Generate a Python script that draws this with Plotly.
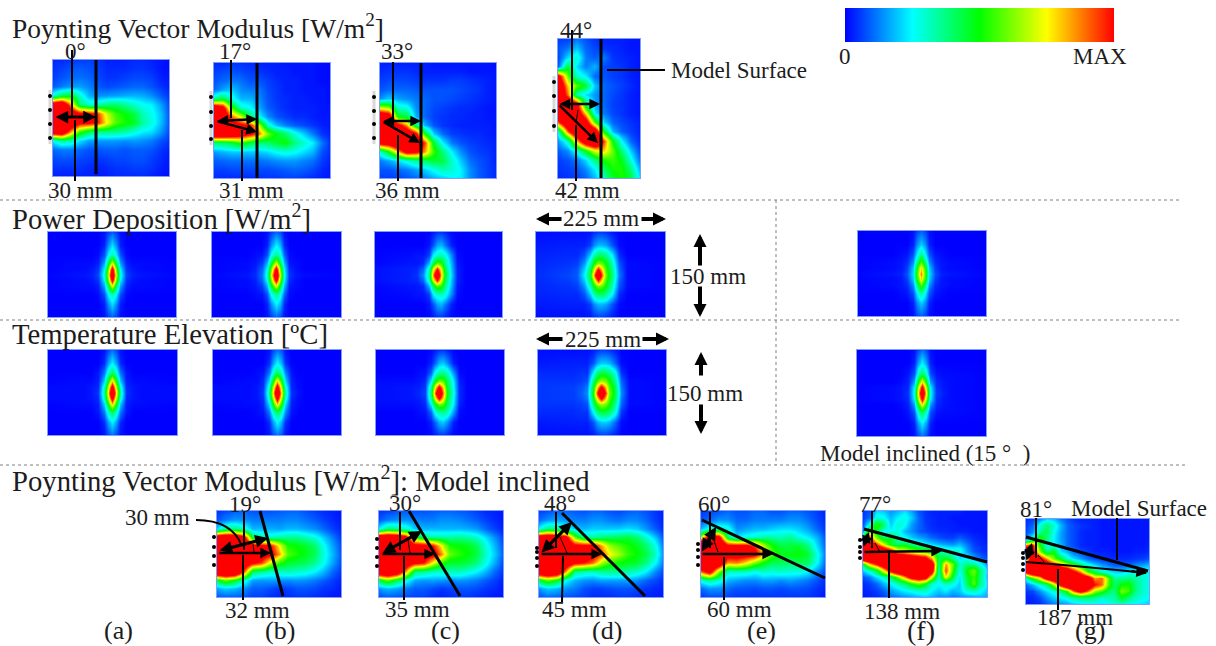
import plotly.graph_objects as go

W, H = 1216, 646

RAINBOW = [[0, "#0000ff"], [0.25, "#00ffff"], [0.5, "#00ff00"], [0.75, "#ffff00"], [1, "#ff0000"]]

# Field maps, 0 = blue, 100 = red (values above 100 saturate as red)
P_0 = [[4,4,5,6,6,5,3,3,3,4,4,3,2,1],[5,6,8,9,8,6,4,4,4,5,5,4,2,1],[6,8,10,11,10,7,5,5,6,7,7,6,3,2],
[9,12,15,16,13,9,7,8,9,10,10,8,5,3],[30,42,48,30,18,14,15,16,17,18,17,14,9,5],[120,130,85,40,30,32,38,40,36,30,26,24,16,7],
[140,140,120,105,103,95,70,55,50,44,32,27,19,8],[140,140,125,105,104,98,75,58,52,48,34,28,19,8],[120,125,85,55,42,36,38,36,34,28,24,22,15,7],
[25,35,32,22,16,15,15,15,14,15,14,12,8,5],[10,12,12,10,8,8,9,9,8,9,9,8,5,3],[7,8,8,7,6,5,6,7,7,8,8,6,4,2],
[5,5,5,5,4,3,4,5,5,6,6,5,3,2],[3,3,3,3,3,2,3,4,4,4,4,3,2,1]]
P_17 = [[4,4,5,5,4,3,3,3,2,2,2,2,1,1],[6,7,8,7,6,5,4,3,3,2,2,2,1,1],[8,10,12,11,8,8,6,4,3,3,2,2,1,1],
[10,16,20,14,12,12,7,5,3,3,2,2,2,1],[35,45,28,18,18,14,8,5,4,3,3,2,2,1],[125,110,55,30,26,17,9,6,4,3,3,3,2,2],
[140,125,90,72,42,26,14,8,6,4,4,3,2,2],[140,135,115,105,100,70,30,18,12,9,7,5,3,2],[130,130,125,115,105,90,62,48,40,28,20,12,5,3],
[40,40,45,55,45,38,40,46,50,38,30,24,12,4],[15,18,20,20,20,20,22,26,28,26,22,18,8,4],[9,10,11,11,11,11,12,14,15,15,13,11,6,3],
[6,6,7,7,7,7,7,8,9,10,9,7,4,2],[4,4,4,4,4,4,5,5,6,6,5,4,3,2]]
P_33 = [[3,3,3,3,3,3,2,2,2,2,2,2,2,1],[4,5,5,5,4,3,3,3,3,3,2,2,2,2],[6,7,7,7,6,5,5,5,6,6,5,4,3,2],
[8,10,10,10,9,8,8,8,8,7,6,5,3,2],[14,20,16,14,12,10,8,8,7,6,5,4,3,2],[70,65,30,28,14,10,7,6,5,4,4,3,2,2],
[130,120,50,45,18,10,6,5,4,4,3,3,2,2],[130,135,110,85,40,18,8,5,4,3,3,3,3,2],[135,135,130,120,105,50,20,10,6,5,4,4,3,2],
[110,115,130,135,125,95,45,24,12,8,6,5,4,3],[30,50,80,110,105,85,55,38,24,14,8,6,5,3],[12,16,22,28,35,40,45,44,30,20,11,8,6,3],
[8,8,10,12,16,20,26,32,30,24,14,9,6,4],[6,6,6,8,10,13,17,20,24,24,14,9,6,4]]
P_44 = [[6,6,12,8,5,3,3,3,2,2],[8,12,20,10,7,5,4,3,2,2],[7,22,30,12,9,12,5,4,3,2],[9,45,22,12,18,7,6,5,3,2],
[110,60,30,24,10,8,6,5,3,2],[125,80,60,45,20,10,8,6,4,2],[125,90,30,22,15,10,7,5,3,2],[130,130,110,40,16,10,6,5,3,2],
[135,130,120,80,25,12,7,5,3,2],[90,130,130,115,60,22,10,7,5,3],[30,90,130,135,125,50,18,9,6,3],[15,30,80,120,135,95,50,25,10,4],
[9,14,28,50,72,80,60,38,20,6],[6,8,12,22,38,52,56,48,28,10],[5,6,8,14,24,40,52,52,38,16],[4,5,6,10,18,32,46,52,44,22]]

I_19 = [[5,7,9,10,8,8,8,9,10,10,8,6,4,3,2],[8,12,15,14,12,12,12,12,13,13,11,9,6,4,2],[22,35,38,30,18,18,17,16,18,18,16,14,10,6,3],
[120,130,125,110,42,34,30,34,36,36,32,28,20,12,5],[135,140,140,125,105,105,100,75,52,50,46,40,26,16,7],[135,140,140,125,110,110,105,85,58,52,48,42,28,18,8],
[135,140,140,120,105,95,70,55,46,44,42,36,26,16,7],[130,135,130,95,40,35,30,30,32,30,28,24,18,10,5],[45,60,50,30,16,15,16,15,14,15,14,12,9,6,3],
[16,20,18,14,9,9,7,5,6,8,8,7,5,4,2],[8,9,9,8,6,6,4,3,4,5,5,4,3,2,2]]
I_30 = [[5,6,8,9,8,8,9,10,10,9,8,6,4,3,2],[8,12,14,14,13,12,12,14,14,13,11,9,6,4,2],[24,38,36,30,20,18,18,18,18,18,17,15,10,6,3],
[125,130,125,110,55,38,34,34,34,36,34,30,22,14,6],[135,140,140,125,108,108,100,75,52,50,48,42,28,18,8],[135,140,140,125,110,112,108,88,60,54,50,44,30,20,9],
[135,140,135,118,105,100,75,55,46,46,44,38,27,17,7],[125,130,120,85,38,35,30,30,32,32,28,24,18,10,5],[45,60,45,28,17,15,16,15,14,15,14,12,9,6,3],
[14,18,16,12,9,9,7,5,6,8,8,7,5,4,2],[7,9,8,7,6,6,4,3,4,5,5,4,3,2,2]]
I_48 = [[6,8,10,10,9,8,10,10,8,7,9,10,8,5,3],[10,14,16,14,12,12,14,14,12,11,13,13,10,6,3],[25,38,36,28,20,18,20,20,20,20,22,20,15,9,4],
[120,125,120,110,60,36,34,38,40,42,44,40,30,20,8],[135,140,140,125,105,105,105,85,65,58,52,48,40,28,12],[135,140,140,125,115,110,108,95,75,66,55,50,44,32,14],
[135,140,135,120,105,100,90,68,55,50,48,46,38,26,12],[125,130,125,85,36,32,30,35,36,36,34,30,24,14,7],[45,60,50,26,18,15,14,16,16,16,16,14,10,7,4],
[14,20,18,14,12,8,6,6,7,8,8,7,5,4,3],[8,10,9,8,7,6,4,4,4,5,5,4,3,3,2]]
I_60 = [[5,7,8,10,8,8,10,10,8,8,10,10,8,6,3],[8,10,14,14,10,10,12,12,12,12,14,14,11,7,4],[18,28,32,28,14,16,18,18,20,22,22,20,16,10,5],
[70,115,110,42,22,28,30,34,34,32,36,28,24,18,8],[130,135,130,105,105,105,95,68,52,44,44,46,38,22,10],[135,140,130,110,110,110,108,82,58,48,48,50,46,28,12],
[130,135,125,85,88,78,62,50,42,42,40,42,40,26,10],[90,110,62,30,30,30,26,30,28,30,28,28,24,14,7],[28,36,30,18,16,14,14,16,16,14,16,14,12,8,4],
[10,14,14,10,8,8,7,8,8,7,8,8,7,5,3],[5,7,7,6,5,5,5,5,5,5,5,5,5,4,2]]
I_77 = [[5,8,22,20,15,18,22,16,8,5,3,3,3,3,3,2,2,2,2],[6,10,28,26,18,24,28,20,10,5,4,3,3,2,2,2,2,2,2],[8,28,55,40,20,30,26,15,10,6,4,3,3,3,2,2,2,2,2],
[15,60,45,25,26,28,18,14,9,7,5,4,4,3,3,3,2,2,2],[50,95,60,40,50,30,26,20,16,14,10,8,6,6,9,6,4,3,2],[125,120,95,70,45,40,45,38,32,25,22,18,16,14,18,12,6,4,3],
[135,135,130,120,105,75,70,60,55,52,48,35,30,30,28,16,8,5,4],[130,135,135,130,130,130,125,120,110,105,80,42,45,35,22,24,16,10,6],[45,80,100,125,130,130,130,130,130,125,120,35,85,60,30,38,36,26,14],
[20,30,45,75,105,125,130,130,130,130,115,30,95,55,25,50,62,38,22],[8,12,22,30,40,60,85,110,120,115,70,28,75,45,22,45,55,38,18],[4,6,10,18,24,32,38,52,60,50,30,25,30,28,20,40,60,34,24],
[3,4,6,9,16,20,24,26,30,30,24,20,24,18,20,30,32,26,20],[2,3,4,6,10,12,14,16,18,20,18,14,14,12,14,14,16,18,16]]
I_81 = [[4,6,14,22,20,12,8,5,3,3,3,2,2,2,2,2,2,2,2],[6,10,28,40,30,18,10,7,5,4,3,2,2,2,2,2,2,2,2],[7,14,35,42,26,16,10,7,4,3,3,2,2,2,2,2,2,2,2],
[12,30,55,38,24,16,10,7,4,3,3,2,2,2,2,2,2,2,2],[90,100,50,28,26,18,10,7,4,3,3,2,2,2,2,2,2,2,3],[120,110,65,36,50,22,18,10,7,5,3,3,3,2,2,2,3,3,4],
[60,130,110,85,60,45,30,22,16,10,7,5,4,4,4,4,5,6,8],[130,135,135,125,110,90,75,58,42,30,22,16,12,9,9,10,14,16,20],[110,130,135,135,130,130,125,105,85,55,42,28,24,20,20,24,26,28,26],
[30,55,75,110,130,135,135,135,130,120,85,90,60,35,36,38,34,30,26],[10,18,28,36,65,105,130,135,130,125,100,90,58,40,50,52,38,30,26],[5,7,14,22,28,38,55,90,110,90,65,55,42,38,62,55,36,30,28],
[3,4,7,14,20,24,28,34,38,38,36,30,32,34,48,38,30,28,24],[2,3,4,8,12,14,16,20,22,24,24,22,26,28,30,26,24,22,20]]

# Focused maps: offsets from the focus in mm
FOCUS_X = [-130,-50,-36,-24,-14,-7,0,7,14,24,36,50,130]
FOCUS_Y = [-80,-52,-34,-20,-10,0,10,20,34,52,80]

D_0 = [[0,0,0,0,1,4,6,4,1,0,0,0,0],[0,0,0,0,3,14,22,14,3,0,0,0,0],[0,0,0,1,8,24,34,24,8,1,0,0,0],[0,1,1,3,16,42,72,42,16,3,1,1,0],[0,1,2,5,24,60,108,60,24,5,2,1,0],
[0,2,3,7,28,68,125,68,28,7,3,2,0],[0,1,2,5,24,60,108,60,24,5,2,1,0],[0,1,1,3,16,42,72,42,16,3,1,1,0],[0,0,0,1,8,24,34,24,8,1,0,0,0],[0,0,0,0,3,14,22,14,3,0,0,0,0],[0,0,0,0,1,4,6,4,1,0,0,0,0]]
D_17 = [[0,0,0,0,1,4,7,5,1,0,0,0,0],[0,0,0,0,3,14,24,18,4,0,0,0,0],[0,0,1,2,8,26,36,28,10,1,0,0,0],[0,1,2,6,18,44,72,44,18,2,1,0,0],[0,1,3,10,26,62,108,62,24,4,1,0,0],
[0,2,4,12,30,72,125,70,26,5,2,1,0],[0,1,3,10,26,62,108,62,24,4,1,0,0],[0,1,2,6,18,44,72,44,18,2,1,0,0],[0,0,1,2,8,26,36,28,10,1,0,0,0],[0,0,0,0,3,14,24,18,4,0,0,0,0],[0,0,0,0,1,4,7,5,1,0,0,0,0]]
D_33 = [[0,0,0,0,0,1,2,2,1,0,0,0,0],[0,0,0,0,2,8,16,18,12,3,0,0,0],[0,1,2,2,6,24,30,32,28,14,1,0,0],[0,2,2,4,18,42,58,52,36,18,2,0,0],[1,3,4,10,32,72,100,72,42,20,3,0,0],
[1,3,5,14,36,88,130,80,46,22,3,0,0],[1,3,4,10,32,72,100,72,42,20,3,0,0],[0,2,2,4,18,42,58,52,36,18,2,0,0],[0,1,2,2,6,24,30,32,28,14,1,0,0],[0,0,0,0,2,8,16,18,12,3,0,0,0],[0,0,0,0,0,1,2,2,1,0,0,0,0]]
D_44 = [[1,1,1,1,1,2,3,3,2,1,0,0,0],[2,3,3,3,6,14,18,18,16,8,1,0,0],[3,4,4,8,20,34,40,40,36,24,4,0,0],[3,5,6,14,32,50,62,58,48,32,8,1,0],[3,6,8,20,40,70,100,76,54,36,10,1,0],
[3,7,9,24,44,88,135,90,58,38,12,1,0],[3,6,8,20,40,70,100,76,54,36,10,1,0],[3,5,6,14,32,50,62,58,48,32,8,1,0],[3,4,4,8,20,34,40,40,36,24,4,0,0],[2,3,3,3,6,14,18,18,16,8,1,0,0],[1,1,1,1,1,2,3,3,2,1,0,0,0]]
D_IN = [[0,0,0,0,1,5,7,5,1,0,0,0,0],[0,0,0,0,3,14,20,14,3,0,0,0,0],[0,0,1,2,8,24,36,24,8,2,1,0,0],[0,1,2,4,14,38,58,38,14,4,2,1,0],[0,1,2,6,20,52,78,52,20,6,2,1,0],
[0,2,3,8,22,56,88,56,22,8,3,2,0],[0,1,2,6,20,52,78,52,20,6,2,1,0],[0,1,2,4,14,38,58,38,14,4,2,1,0],[0,0,1,2,8,24,36,24,8,2,1,0,0],[0,0,0,0,3,14,20,14,3,0,0,0,0],[0,0,0,0,1,5,7,5,1,0,0,0,0]]

T_0 = [[0,0,0,0,1,5,8,5,1,0,0,0,0],[0,0,0,0,4,16,24,16,4,0,0,0,0],[0,0,0,2,12,30,42,30,12,2,0,0,0],[0,1,1,3,20,50,80,50,20,3,1,1,0],[1,1,2,4,30,68,110,68,30,4,2,1,1],
[1,1,2,5,34,78,130,78,34,5,2,1,1],[1,1,2,4,30,68,110,68,30,4,2,1,1],[0,1,1,3,20,50,80,50,20,3,1,1,0],[0,0,0,2,12,30,42,30,12,2,0,0,0],[0,0,0,0,4,16,24,16,4,0,0,0,0],[0,0,0,0,1,5,8,5,1,0,0,0,0]]
T_17 = [[0,0,0,0,1,5,8,6,1,0,0,0,0],[0,0,0,0,4,16,25,18,5,0,0,0,0],[0,0,1,2,12,30,42,32,14,2,0,0,0],[0,1,1,4,22,50,80,52,22,3,1,0,0],[1,1,2,5,30,68,110,70,30,4,1,0,0],
[1,1,2,6,34,80,130,80,34,5,2,0,0],[1,1,2,5,30,68,110,70,30,4,1,0,0],[0,1,1,4,22,50,80,52,22,3,1,0,0],[0,0,1,2,12,30,42,32,14,2,0,0,0],[0,0,0,0,4,16,25,18,5,0,0,0,0],[0,0,0,0,1,5,8,6,1,0,0,0,0]]
T_33 = [[0,0,0,0,0,1,2,2,1,0,0,0,0],[0,0,0,0,3,10,18,20,14,3,0,0,0],[0,0,1,2,10,28,34,36,32,16,1,0,0],[1,1,2,4,24,48,62,58,42,24,3,0,0],[1,2,3,6,36,76,105,78,46,26,4,0,0],
[1,2,4,7,40,92,130,88,50,28,4,0,0],[1,2,3,6,36,76,105,78,46,26,4,0,0],[1,1,2,4,24,48,62,58,42,24,3,0,0],[0,0,1,2,10,28,34,36,32,16,1,0,0],[0,0,0,0,3,10,18,20,14,3,0,0,0],[0,0,0,0,0,1,2,2,1,0,0,0,0]]
T_44 = [[1,1,1,1,1,2,3,3,2,1,0,0,0],[2,3,3,3,8,16,20,20,18,10,1,0,0],[4,4,5,5,24,38,44,44,40,28,5,0,0],[5,5,6,8,38,56,66,62,52,36,10,1,0],[5,6,8,12,46,78,105,84,58,42,12,1,0],
[5,6,9,14,50,96,135,100,62,44,14,1,0],[5,6,8,12,46,78,105,84,58,42,12,1,0],[5,5,6,8,38,56,66,62,52,36,10,1,0],[4,4,5,5,24,38,44,44,40,28,5,0,0],[2,3,3,3,8,16,20,20,18,10,1,0,0],[1,1,1,1,1,2,3,3,2,1,0,0,0]]
T_IN = [[0,0,0,0,1,5,8,5,1,0,0,0,0],[0,0,0,0,3,16,24,16,3,0,0,0,0],[0,0,0,2,8,30,42,30,8,2,1,1,0],[0,0,1,3,16,50,78,50,16,4,2,1,0],[0,1,2,4,24,66,105,66,24,5,2,1,0],
[0,1,2,5,26,76,125,76,26,6,3,1,0],[0,1,2,4,24,66,105,66,24,5,2,1,0],[0,0,1,3,16,50,78,50,16,4,2,1,0],[0,0,0,2,8,30,42,30,8,2,1,1,0],[0,0,0,0,3,16,24,16,3,0,0,0,0],[0,0,0,0,1,5,8,5,1,0,0,0,0]]

FIELD_PANELS = [(P_0,53,60,169,176),(P_17,214,63,330,178),(P_33,380,63,496,178),(P_44,558,39,640,178),
    (I_19,217,511,341,597),(I_30,379,511,503,597),(I_48,539,511,663,597),(I_60,701,511,825,597),(I_77,863,511,987,597),(I_81,1026,519,1149,604)]
FOCUS_PANELS = [(D_0,48,232,176,317,64),(D_17,212,232,341,317,63.5),(D_33,375,232,502,317,62),(D_44,536,232,665,317,62),(D_IN,858,231,986,316,63),
    (T_0,48,350,177,435,64),(T_17,213,350,341,435,64),(T_33,376,350,504,435,63),(T_44,538,350,666,435,63),(T_IN,857,350,986,436,65)]

SERIF = "Liberation Serif"
TEXT = "#1c1c1c"
TEXTS = [
    ("Poynting Vector Modulus [W/m<sup>2</sup>]",10,26,27.5,"left"),("Power Deposition [W/m<sup>2</sup>]",10,217,28.6,"left"),
    ("Temperature Elevation [ºC]",10,334,28.7,"left"),("Poynting Vector Modulus [W/m<sup>2</sup>]: Model inclined",10,479,28.7,"left"),
    ("0°",75,51,23,"center"),("17°",235,51,23,"center"),("33°",397,51,23,"center"),("44°",576,30,23,"center"),
    ("30 mm",80,190,23,"center"),("31 mm",251,190,23,"center"),("36 mm",407,190,23,"center"),("42 mm",587,190,23,"center"),
    ("Model Surface",669,70,23,"left"),("225 mm",601,218,23,"center"),("225 mm",603,339,23,"center"),
    ("150 mm",708,276,23,"center"),("150 mm",705,393,23,"center"),("Model inclined (15 °  )",925,453,23,"center"),
    ("30 mm",157,517,23,"center"),("19°",245,504,23,"center"),("30°",405,503,23,"center"),("48°",560,503,23,"center"),
    ("60°",714,504,23,"center"),("77°",875,504,23,"center"),("81°",1036,509,23,"center"),("Model Surface",1069,508,23,"left"),
    ("32 mm",257,610,23,"center"),("35 mm",417,609,23,"center"),("45 mm",574,609,23,"center"),("60 mm",739,609,23,"center"),
    ("138 mm",902,611,23,"center"),("187 mm",1075,617,23,"center"),
    ("0",845,56,23,"center"),("MAX",1100,56,23,"center"),
    ("(a)",118,630,26,"center"),("(b)",280,630,26,"center"),("(c)",445,630,26,"center"),("(d)",607,630,26,"center"),
    ("(e)",761,630,26,"center"),("(f)",921,630,28,"center"),("(g)",1090,630,26,"center"),
]
LINES = [
    (96,60,96,174,3),(72,50,72,116,2),(75,120,75,181,2),
    (257,63,257,178,3),(231,60,231,118,2),(242,130,242,181,2),
    (421,63,421,178,3),(393,62,393,122,2),(398,135,398,181,2),
    (601,39,601,178,3),(572,30,572,110,2),(576,125,576,181,2),(607,70,665,70,2),
    (260,511,283,596,3),(244,512,244,550,2),(243,555,243,600,2),
    (409,511,460,596,3),(400,512,400,550,2),(404,556,404,600,2),
    (562,513,645,596,3),(556,512,556,548,2),(563,556,562,602,2),
    (702,520,825,578,3),(710,512,710,548,2),(724,557,724,600,2),
    (864,529,987,562,3),(872,511,872,548,2),(889,553,889,598,2),
    (1026,537,1148,571,3),(1036,518,1036,558,2),(1058,569,1058,610,2),(1117,518,1117,560,2),
    (578,110,576,123,1),(253,544,254,552,1),(408,540,410,553,1),(560,537,567,553,1),(713,538,718,552,1),(875,543,880,552,1),(1038,555,1044,562,1),
]
ARROWS = [
    (54,117,96,117,3,True),(216,121,257,119,2.5,True),(216,121,257,132,2.5,False),
    (382,121,421,121,2.5,True),(382,121,420,143,2.5,False),(558,104,600,104,2.5,True),(558,104,598,143,2.5,False),
    (218,551,268,538,3,True),(218,553,271,553,2.5,False),(381,554,422,531,3,True),(381,554,435,554,2.5,False),
    (540,554,572,522,3,True),(540,554,602,554,2.5,False),(701,553,716,527,3,True),(701,554,773,554,2.5,False),
    (863,548,869,532,2.5,True),(863,552,942,551,2.5,False),(1026,562,1032,543,2.5,True),(1130,571,1147,573,2.5,False),
    (563,219,536,219,4,False),(640,219,666,219,4,False),(564,339,536,339,4,False),(641,339,669,339,4,False),
    (700,267,700,234,4,False),(700,285,700,317,4,False),(701,377,701,352,4,False),(701,403,701,434,4,False),
]
DOTS = [(50,96),(50,110),(50,124),(50,138),(211,97),(211,112),(211,126),(211,139),(374,97),(374,111),(374,124),(374,138),
    (554,82),(554,96),(554,111),(554,126),(214,537),(214,547),(214,556),(214,565),(377,539),(377,548),(377,557),(377,566),
    (537,548),(537,552),(537,558),(537,566),(698,544),(698,550),(698,557),(698,565),(860,540),(860,547),(860,552),(860,558),
    (1023,553),(1023,558),(1023,564),(1023,570)]
ARRAY_BARS = [(50,90,50,144),(211,91,211,145),(374,91,374,144),(554,76,554,132)]
SEPARATORS = [(0,200,1180,200),(0,320,1180,320),(0,465,1186,465),(776,200,776,465)]
CURVES = ["M196,520 Q232,520 242,546", "M1026,562 Q1090,567 1146,573"]

fig = go.Figure()
layout = {}
axis_common = dict(showgrid=False, zeroline=False, showticklabels=False, ticks="", showline=True,
                   linecolor="#7f9cff", linewidth=1, mirror=True)
n = 0

def add_axes(left, top, right, bottom, xr, yr):
    global n
    n += 1
    s = "" if n == 1 else str(n)
    layout["xaxis" + s] = dict(axis_common, domain=[left / W, right / W], range=xr, anchor="y" + s)
    layout["yaxis" + s] = dict(axis_common, domain=[1 - bottom / H, 1 - top / H], range=yr, anchor="x" + s)
    return "x" + s, "y" + s

for grid, l, t, r, b in FIELD_PANELS:
    xa, ya = add_axes(l, t, r, b, [0, len(grid[0]) - 1], [len(grid) - 1, 0])
    fig.add_trace(go.Heatmap(z=grid, coloraxis="coloraxis", zsmooth="best", xaxis=xa, yaxis=ya, hoverinfo="skip"))
for grid, l, t, r, b, c in FOCUS_PANELS:
    mm = 225 / (r - l)
    xa, ya = add_axes(l, t, r, b, [-c * mm, (r - l - c) * mm], [75, -75])
    fig.add_trace(go.Heatmap(x=FOCUS_X, y=FOCUS_Y, z=grid, coloraxis="coloraxis", zsmooth="best", xaxis=xa, yaxis=ya, hoverinfo="skip"))

layout["xaxis99"] = dict(domain=[0, 1], range=[0, W], visible=False, anchor="y99")
layout["yaxis99"] = dict(domain=[0, 1], range=[H, 0], visible=False, anchor="x99")
fig.add_trace(go.Scatter(x=[None], y=[None], xaxis="x99", yaxis="y99", showlegend=False))

shapes = []
for x0, y0, x1, y1 in SEPARATORS:
    shapes.append(dict(type="line", xref="x99", yref="y99", x0=x0, y0=y0, x1=x1, y1=y1, line=dict(color="#808080", width=1, dash="dot")))
for x0, y0, x1, y1 in ARRAY_BARS:
    shapes.append(dict(type="line", xref="x99", yref="y99", x0=x0, y0=y0, x1=x1, y1=y1, line=dict(color="#d8d8d8", width=3)))
for x0, y0, x1, y1, w in LINES:
    shapes.append(dict(type="line", xref="x99", yref="y99", x0=x0, y0=y0, x1=x1, y1=y1, line=dict(color="black", width=w)))
for p in CURVES:
    shapes.append(dict(type="path", xref="x99", yref="y99", path=p, line=dict(color="black", width=2)))
for x, y in DOTS:
    shapes.append(dict(type="circle", xref="x99", yref="y99", x0=x - 2, x1=x + 2, y0=y - 2, y1=y + 2, fillcolor="black", line=dict(width=0)))

annotations = []
for text, x, y, size, anchor in TEXTS:
    annotations.append(dict(text=text, x=x, y=y, xref="x99", yref="y99", showarrow=False, xanchor=anchor, yanchor="middle",
                            font=dict(family=SERIF, size=size, color=TEXT)))
for x0, y0, x1, y1, w, both in ARROWS:
    scale = 0.65 if w >= 4 else 0.85
    annotations.append(dict(text="", x=x1, y=y1, ax=x0, ay=y0, xref="x99", yref="y99", axref="x99", ayref="y99", showarrow=True,
                            arrowhead=2, arrowsize=scale, arrowwidth=w, arrowcolor="black", standoff=0, startstandoff=0,
                            arrowside="end+start" if both else "end", startarrowhead=2, startarrowsize=scale))

fig.update_layout(
    width=W, height=H, margin=dict(l=0, r=0, t=0, b=0, autoexpand=False), paper_bgcolor="white", plot_bgcolor="rgba(0,0,0,0)",
    showlegend=False, shapes=shapes, annotations=annotations,
    coloraxis=dict(colorscale=RAINBOW, cmin=0, cmax=100, colorbar=dict(
        orientation="h", x=845 / W, xanchor="left", y=1 - 8 / H, yanchor="top", lenmode="pixels", len=269, thickness=34,
        xpad=0, ypad=0, outlinewidth=0, ticks="", showticklabels=False)),
    **layout)
fig.write_html("out.html", config={"displayModeBar": False},
               post_script="document.documentElement.style.overflow='hidden';document.body.style.margin='0';document.body.style.overflow='hidden';")
